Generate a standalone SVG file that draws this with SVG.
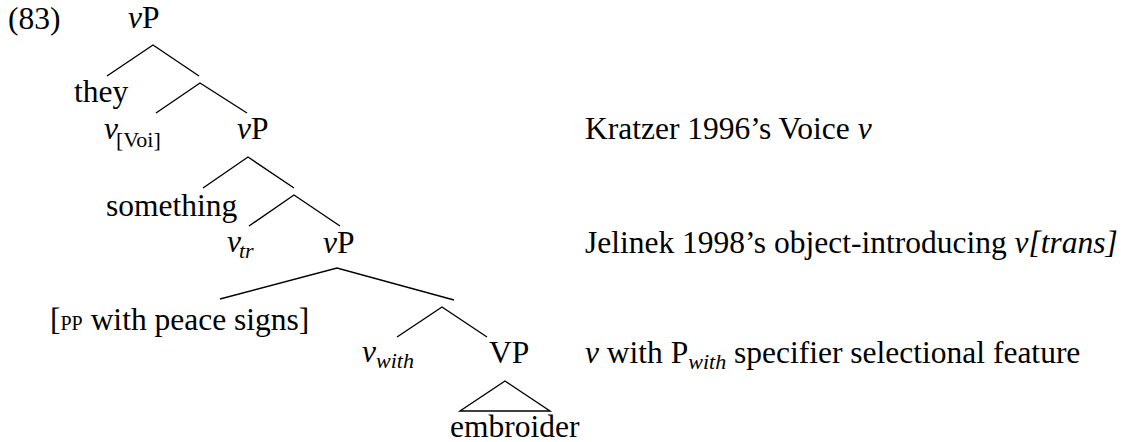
<svg xmlns="http://www.w3.org/2000/svg" width="1133" height="442" viewBox="0 0 1133 442">
<style>
text{font-family:'Liberation Serif','Times New Roman',Times,serif;font-size:31.5px;fill:#000}
.i{font-style:italic}
.sub{font-size:22px}
.sc{font-size:20px}
line,polyline,polygon{stroke:#000;stroke-width:1.4;fill:none}
</style>
<rect width="1133" height="442" fill="#fff"/>
<g font-family="Liberation Serif, serif">
<text x="8" y="29">(83)</text>
<g id="connectors">
<polyline points="107,76 153,45 199,76"/>
<polyline points="156,113 200,83 247,113"/>
<polyline points="203,188 248,157 294,188"/>
<polyline points="249,226 294,195 340,226"/>
<polyline points="220,299 337,268 454,300"/>
<polyline points="397,337 442,307 487,337"/>
<polygon points="505,381 460,411 550,411"/>
</g>
<g id="n-vP1"><text x="128" y="28"><tspan class="i">v</tspan>P</text></g>
<g id="n-they"><text x="74" y="102">they</text></g>
<g id="n-vVoi"><text x="104" y="139"><tspan class="i">v</tspan><tspan class="sub" dx="-2" dy="8">[Voi]</tspan></text></g>
<g id="n-vP2"><text x="237" y="139"><tspan class="i">v</tspan>P</text></g>
<g id="n-something"><text x="106" y="216">something</text></g>
<g id="n-vtr"><text x="227" y="252"><tspan class="i">v</tspan><tspan class="i sub" dx="-2" dy="6">tr</tspan></text></g>
<g id="n-vP3"><text x="323" y="253"><tspan class="i">v</tspan>P</text></g>
<g id="n-PP"><text x="50" y="330">[<tspan class="sc">PP</tspan> with peace signs]</text></g>
<g id="n-vwith"><text x="362" y="362"><tspan class="i">v</tspan><tspan class="i sub" dy="6">with</tspan></text></g>
<g id="n-VP"><text x="489" y="363">VP</text></g>
<g id="n-embroider"><text x="450" y="437">embroider</text></g>
<g id="annotations">
<text x="585" y="139">Kratzer 1996’s Voice <tspan class="i">v</tspan></text>
<text x="585" y="253">Jelinek 1998’s object-introducing <tspan class="i">v[trans]</tspan></text>
<text x="585" y="363"><tspan class="i">v</tspan> with P<tspan class="i sub" dy="6">with</tspan><tspan dy="-6"> specifier selectional feature</tspan></text>
</g>
</g>
</svg>
